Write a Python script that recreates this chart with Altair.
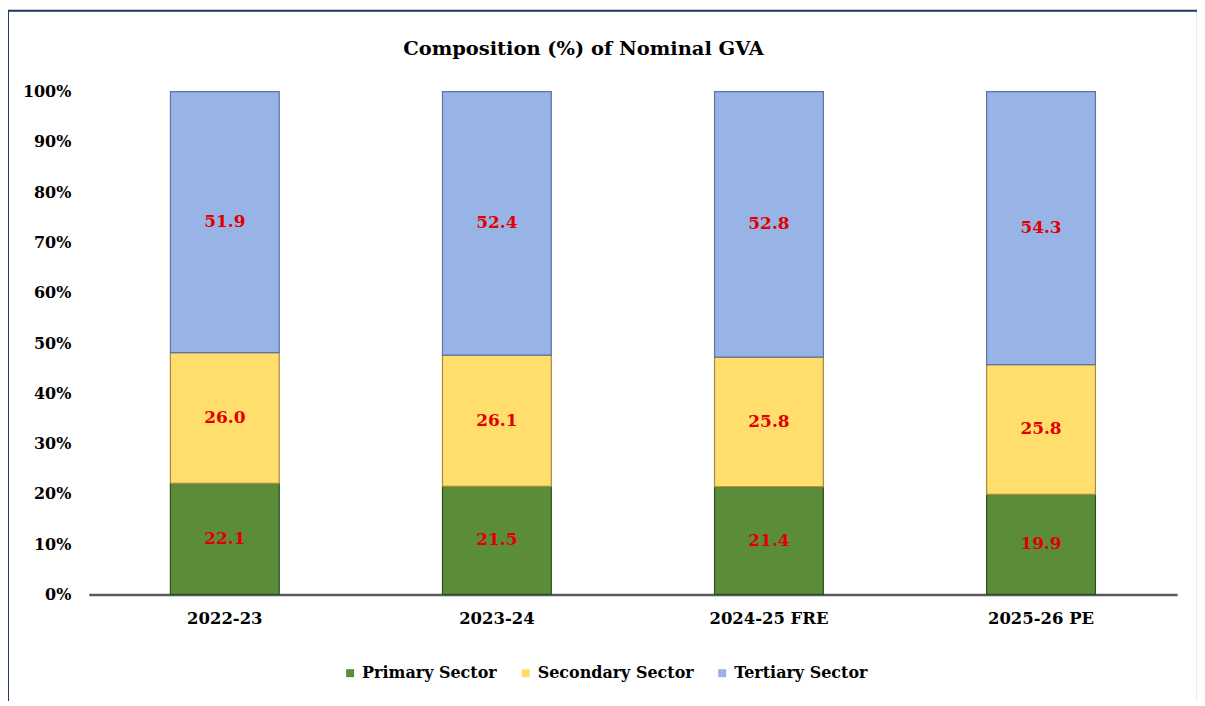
import altair as alt
import pandas as pd

years = ["2022-23", "2023-24", "2024-25 FRE", "2025-26 PE"]
sectors = ["Primary Sector", "Secondary Sector", "Tertiary Sector"]
primary = [22.1, 21.5, 21.4, 19.9]
secondary = [26.0, 26.1, 25.8, 25.8]
tertiary = [51.9, 52.4, 52.8, 54.3]
colors = ["#5B8C3A", "#FFDE6E", "#98B3E6"]
strokes = ["#2F4F1C", "#A8893A", "#5A74A8"]
title_text = "Composition (%) of Nominal GVA"

rows = []
for i, yr in enumerate(years):
    cum = 0.0
    for j, (s, vals) in enumerate(zip(sectors, [primary, secondary, tertiary])):
        v = vals[i]
        rows.append({"year": yr, "sector": s, "order": j, "value": v,
                     "mid": cum + v / 2, "label": f"{v:.1f}"})
        cum += v
df = pd.DataFrame(rows)

FONT = "DejaVu Serif"
W, H = 1091, 504

xenc = alt.X("year:N", sort=years,
             scale=alt.Scale(paddingInner=0.6, paddingOuter=0.3),
             axis=alt.Axis(title=None, labelAngle=0, domainColor="#595959",
                           domainWidth=2.5, ticks=False, labelFont=FONT,
                           labelFontSize=16.5, labelFontWeight="bold",
                           labelColor="#000000", labelPadding=16))
yscale = alt.Scale(domain=[0, 100])

bars = alt.Chart(df).mark_bar(strokeWidth=1.2).encode(
    x=xenc,
    y=alt.Y("value:Q", stack="zero", scale=yscale,
            axis=alt.Axis(title=None, values=list(range(0, 101, 10)),
                          labelExpr="datum.value + '%'", grid=False,
                          domain=False, ticks=False, labelFont=FONT,
                          labelFontSize=16, labelFontWeight="bold",
                          labelColor="#000000", labelPadding=18)),
    color=alt.Color("sector:N", scale=alt.Scale(domain=sectors, range=colors),
                    legend=alt.Legend(title=None, orient="none", legendX=254,
                                      legendY=575, direction="horizontal",
                                      symbolType="square", symbolSize=64,
                                      symbolStrokeWidth=0,
                                      labelFont=FONT, labelFontSize=16,
                                      labelFontWeight="bold",
                                      labelColor="#000000",
                                      columnPadding=20, labelOffset=4)),
    stroke=alt.Stroke("sector:N", scale=alt.Scale(domain=sectors, range=strokes),
                      legend=None),
    order=alt.Order("order:Q", sort="ascending"),
)

labels = alt.Chart(df).mark_text(color="#E00000", font=FONT, fontSize=17,
                                 fontWeight="bold", baseline="middle").encode(
    x=alt.X("year:N", sort=years),
    y=alt.Y("mid:Q", scale=yscale),
    text="label:N",
)

tdf = pd.DataFrame({"t": [title_text]})
title = alt.Chart(tdf).mark_text(font=FONT, fontSize=19.5, fontWeight="bold",
                                 color="#000000", baseline="middle",
                                 align="center").encode(
    x=alt.value(496), y=alt.value(-43), text="t:N")

border_gray = alt.Chart(tdf).mark_rect(fill=None, stroke="#DADADA",
                                       strokeWidth=1).encode(
    x=alt.value(-81), x2=alt.value(1111), y=alt.value(-81), y2=alt.value(613))
top_rule = alt.Chart(tdf).mark_rule(color="#1F3A5F", strokeWidth=2).encode(
    x=alt.value(-81), x2=alt.value(1111), y=alt.value(-81))
left_rule = alt.Chart(tdf).mark_rule(color="#1F3A5F", strokeWidth=2).encode(
    x=alt.value(-81), y=alt.value(-81), y2=alt.value(613))

chart = alt.layer(border_gray, top_rule, left_rule, bars, labels, title).properties(
    width=W, height=H,
    autosize=alt.AutoSizeParams(type="none"),
    padding={"left": 81, "top": 83, "right": 20, "bottom": 106},
).configure_view(stroke=None)

chart.save("out.html", embed_options={"renderer": "svg", "actions": False})
